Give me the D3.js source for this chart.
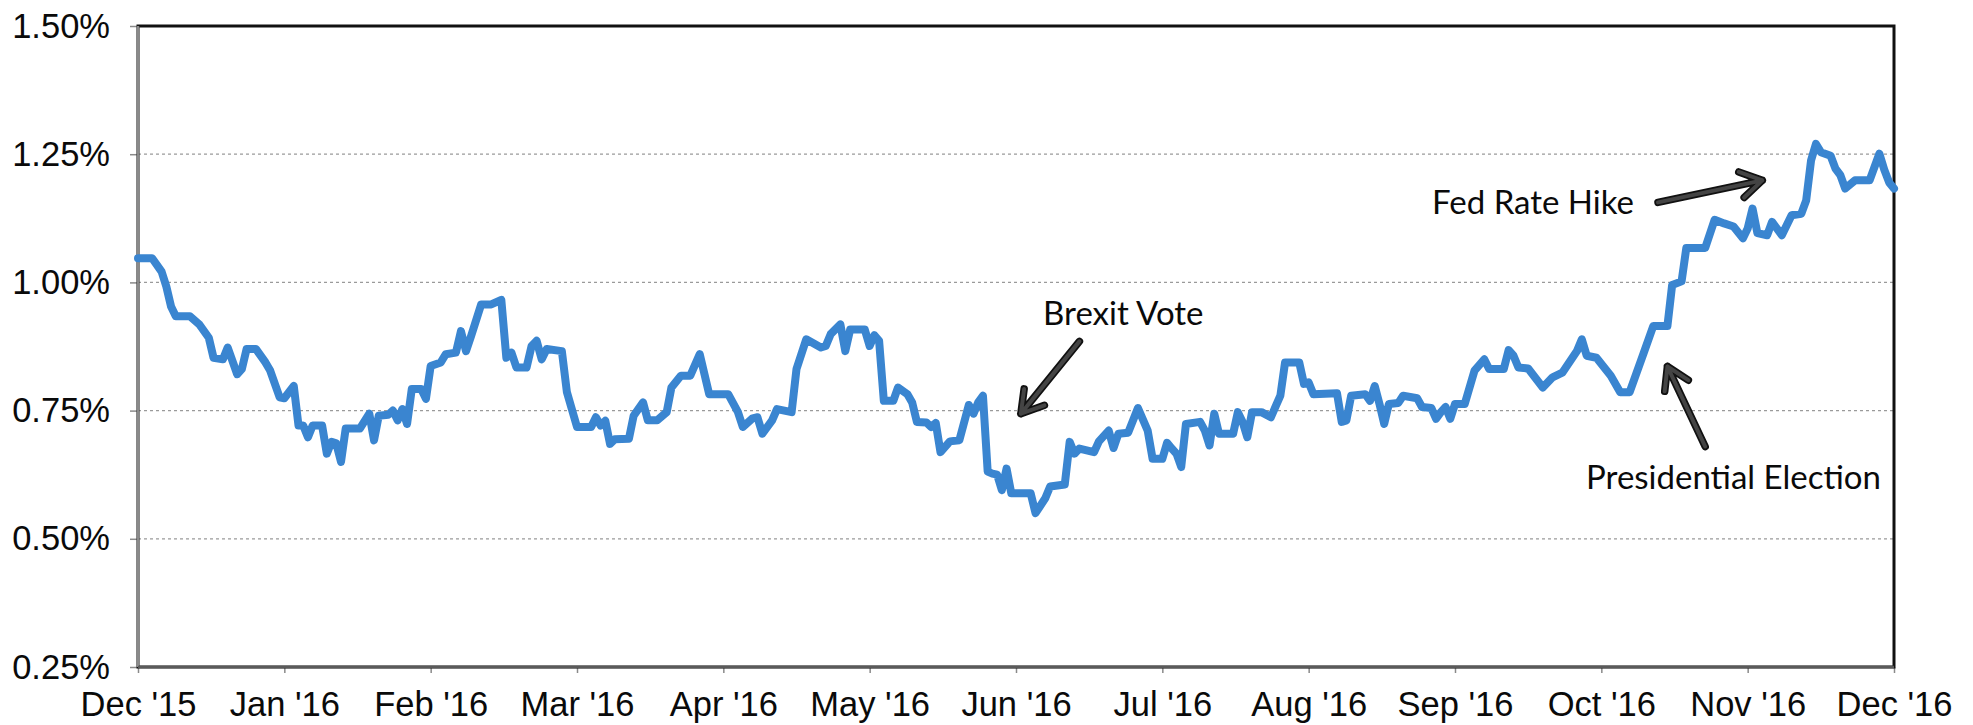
<!DOCTYPE html>
<html>
<head>
<meta charset="utf-8">
<script src="https://cdn.jsdelivr.net/npm/d3@7"></script>
<style>
  body { margin: 0; background: #fff; }
  svg { display: block; }
</style>
</head>
<body>
<script>
var config = {
  "width": 1973,
  "height": 725,
  "left": 138,
  "right": 79,
  "top": 26,
  "bottom": 58
}

// axis labels
var monthLabels = ["Dec '15", "Jan '16", "Feb '16", "Mar '16", "Apr '16", "May '16", "Jun '16",
                   "Jul '16", "Aug '16", "Sep '16", "Oct '16", "Nov '16", "Dec '16"];
var yTicks = [0.25, 0.50, 0.75, 1.00, 1.25, 1.50];
var gridTicks = [0.50, 0.75, 1.00, 1.25];

// yield series (percent)
var dates = [
  "2015-12-01","2015-12-04","2015-12-06","2015-12-07","2015-12-08","2015-12-09","2015-12-12","2015-12-14","2015-12-16","2015-12-17",
  "2015-12-19","2015-12-20","2015-12-22","2015-12-23","2015-12-24","2015-12-26","2015-12-28","2015-12-29","2015-12-31",
  "2016-01-01","2016-01-03","2016-01-04","2016-01-05","2016-01-06","2016-01-07","2016-01-09","2016-01-10","2016-01-11","2016-01-12",
  "2016-01-13","2016-01-14","2016-01-17","2016-01-19","2016-01-20","2016-01-21","2016-01-23","2016-01-24","2016-01-25","2016-01-26",
  "2016-01-27","2016-01-28","2016-01-30","2016-01-31",
  "2016-02-01","2016-02-03","2016-02-04","2016-02-06","2016-02-07","2016-02-08","2016-02-09","2016-02-11","2016-02-13","2016-02-15",
  "2016-02-16","2016-02-17","2016-02-18","2016-02-20","2016-02-21","2016-02-22","2016-02-23","2016-02-24","2016-02-27","2016-02-28",
  "2016-03-01","2016-03-04","2016-03-05","2016-03-06","2016-03-07","2016-03-08","2016-03-09","2016-03-12","2016-03-13","2016-03-15",
  "2016-03-16","2016-03-18","2016-03-20","2016-03-21","2016-03-23","2016-03-25","2016-03-27","2016-03-29",
  "2016-04-02","2016-04-04","2016-04-05","2016-04-07","2016-04-08","2016-04-09","2016-04-11","2016-04-12","2016-04-15","2016-04-16",
  "2016-04-18","2016-04-21","2016-04-22","2016-04-23","2016-04-25","2016-04-26","2016-04-27","2016-04-30",
  "2016-05-01","2016-05-02","2016-05-03","2016-05-04","2016-05-06","2016-05-07","2016-05-09","2016-05-10","2016-05-11","2016-05-13",
  "2016-05-14","2016-05-15","2016-05-16","2016-05-18","2016-05-20","2016-05-22","2016-05-23","2016-05-24","2016-05-25","2016-05-26",
  "2016-05-27","2016-05-28","2016-05-29","2016-05-30","2016-05-31",
  "2016-06-04","2016-06-05","2016-06-07","2016-06-08","2016-06-11","2016-06-12","2016-06-13","2016-06-14","2016-06-17","2016-06-18",
  "2016-06-20","2016-06-21","2016-06-22","2016-06-24","2016-06-26","2016-06-28","2016-06-29",
  "2016-07-01","2016-07-02","2016-07-03","2016-07-04","2016-07-05","2016-07-06","2016-07-09","2016-07-10","2016-07-11","2016-07-12",
  "2016-07-13","2016-07-16","2016-07-17","2016-07-18","2016-07-19","2016-07-20","2016-07-22","2016-07-24","2016-07-26","2016-07-27",
  "2016-07-30","2016-07-31",
  "2016-08-01","2016-08-02","2016-08-07","2016-08-08","2016-08-09","2016-08-10","2016-08-13","2016-08-14","2016-08-15","2016-08-16",
  "2016-08-17","2016-08-18","2016-08-20","2016-08-21","2016-08-24","2016-08-25","2016-08-27","2016-08-28","2016-08-29","2016-08-30",
  "2016-08-31",
  "2016-09-01","2016-09-03","2016-09-05","2016-09-07","2016-09-08","2016-09-11","2016-09-12","2016-09-13","2016-09-14","2016-09-16",
  "2016-09-19","2016-09-21","2016-09-23","2016-09-26","2016-09-27","2016-09-28","2016-09-30",
  "2016-10-03","2016-10-05","2016-10-07","2016-10-10","2016-10-12","2016-10-15","2016-10-16","2016-10-18","2016-10-19","2016-10-23",
  "2016-10-25","2016-10-27","2016-10-29","2016-10-31",
  "2016-11-01","2016-11-02","2016-11-03","2016-11-05","2016-11-06","2016-11-08","2016-11-10","2016-11-12","2016-11-13","2016-11-14",
  "2016-11-15","2016-11-16","2016-11-18","2016-11-19","2016-11-20","2016-11-21","2016-11-23","2016-11-26","2016-11-28","2016-11-29",
  "2016-11-30","2016-12-01"
];
var yields = [
  1.047,1.047,1.021,0.992,0.953,0.934,0.934,0.918,0.892,0.853,
  0.850,0.873,0.821,0.831,0.870,0.870,0.844,0.828,0.776,
  0.774,0.798,0.721,0.721,0.698,0.721,0.721,0.666,0.689,0.686,
  0.650,0.715,0.715,0.744,0.692,0.740,0.742,0.750,0.731,0.753,
  0.724,0.792,0.792,0.773,
  0.837,0.844,0.860,0.863,0.905,0.866,0.895,0.957,0.957,0.966,
  0.853,0.863,0.834,0.834,0.876,0.886,0.850,0.870,0.866,0.786,
  0.718,0.718,0.737,0.721,0.730,0.685,0.694,0.695,0.740,0.766,
  0.731,0.731,0.747,0.795,0.818,0.818,0.860,0.782,
  0.782,0.747,0.718,0.735,0.737,0.705,0.731,0.753,0.747,0.831,
  0.889,0.873,0.876,0.899,0.918,0.866,0.908,0.908,
  0.876,0.897,0.886,0.769,0.769,0.795,0.782,0.766,0.728,0.727,
  0.718,0.726,0.669,0.690,0.692,0.761,0.744,0.766,0.779,0.631,
  0.627,0.625,0.595,0.637,0.589,
  0.589,0.550,0.579,0.602,0.606,0.689,0.666,0.676,0.669,0.690,
  0.711,0.677,0.705,0.707,0.755,0.711,0.656,
  0.656,0.687,0.676,0.666,0.640,0.724,0.728,0.711,0.682,0.744,
  0.705,0.705,0.747,0.728,0.698,0.747,0.747,0.737,0.779,0.844,
  0.844,0.802,
  0.805,0.782,0.784,0.728,0.731,0.779,0.782,0.769,0.798,0.763,
  0.724,0.763,0.765,0.779,0.774,0.757,0.755,0.734,0.747,0.757,
  0.734,
  0.763,0.763,0.828,0.850,0.831,0.831,0.868,0.857,0.834,0.832,
  0.795,0.815,0.824,0.866,0.889,0.857,0.853,
  0.818,0.786,0.786,0.863,0.915,0.915,0.995,1.002,1.067,1.067,
  1.122,1.115,1.109,1.086,
  1.105,1.144,1.096,1.092,1.118,1.092,1.131,1.134,1.160,1.238,
  1.270,1.254,1.247,1.222,1.209,1.183,1.199,1.199,1.251,1.220,
  1.195,1.183
];

var parseDate = d3.timeParse("%Y-%m-%d");
var data = dates.map(function(d, i) { return { date: parseDate(d), value: yields[i] } });

var w = config.width - config.left - config.right,
    h = config.height - config.top - config.bottom;

// months are spaced evenly on this chart, so use a polylinear time scale
var monthStarts = d3.timeMonth.range(new Date(2015, 11, 1), new Date(2016, 11, 2));
var x = d3.scaleTime()
  .domain(monthStarts)
  .range(monthStarts.map(function(d, i) { return i * w / 12 }));
var y = d3.scaleLinear().domain([0.25, 1.5]).range([h, 0]);

var svg = d3.select("body").append("svg")
  .attr("width", config.width)
  .attr("height", config.height);

var g = svg.append("g")
  .attr("transform", "translate(" + config.left + "," + config.top + ")");

// dotted gridlines
g.selectAll(".grid")
  .data(gridTicks)
  .enter().append("line")
  .attr("x1", 0).attr("x2", w)
  .attr("y1", function(d) { return y(d) })
  .attr("y2", function(d) { return y(d) })
  .style("stroke", "#9a9a9a")
  .style("stroke-width", 1.2)
  .style("stroke-dasharray", "3,3");

// axes
var yAxis = g.append("g")
  .call(d3.axisLeft(y).tickValues(yTicks)
    .tickFormat(function(d) { return d.toFixed(2) + "%" })
    .tickSize(8).tickPadding(20));

var xAxis = g.append("g")
  .attr("transform", "translate(0," + h + ")")
  .call(d3.axisBottom(x).tickValues(monthStarts)
    .tickFormat(function(d, i) { return monthLabels[i] })
    .tickSize(6).tickPadding(19));

[yAxis, xAxis].forEach(function(a) {
  a.select(".domain").remove();
  a.selectAll(".tick line").style("stroke", "#8a8a8a").style("stroke-width", 1.5);
  a.selectAll("text")
    .style("font-family", "'Liberation Sans', Arial, sans-serif")
    .style("font-size", "34.5px")
    .style("fill", "#0a0a0a");
});

// plot frame: black top/right, grey axis lines left/bottom
g.append("rect")
  .attr("width", w).attr("height", h)
  .style("fill", "none")
  .style("stroke", "#111")
  .style("stroke-width", 3);
g.append("line").attr("x1", 0).attr("x2", 0).attr("y1", 0).attr("y2", h)
  .style("stroke", "#8a8a8a").style("stroke-width", 2.5);
g.append("line").attr("x1", 0).attr("x2", w).attr("y1", h).attr("y2", h)
  .style("stroke", "#5a5a5a").style("stroke-width", 2.5);

// the series
var line = d3.line()
  .x(function(d) { return x(d.date) })
  .y(function(d) { return y(d.value) });

g.append("path")
  .datum(data)
  .attr("d", line)
  .style("fill", "none")
  .style("stroke", "#3a85d0")
  .style("stroke-width", 8)
  .style("stroke-linejoin", "round")
  .style("stroke-linecap", "round");

// annotations: label, arrow tip, arrow tail, label anchor (all in date / value)
function annotate(label, tip, tail, at) {
  var x1 = x(parseDate(tail[0])), y1 = y(tail[1]),
      x2 = x(parseDate(tip[0])), y2 = y(tip[1]);
  var ang = Math.atan2(y2 - y1, x2 - x1), len = 25, spread = 0.55;
  var hx1 = x2 - len * Math.cos(ang - spread), hy1 = y2 - len * Math.sin(ang - spread),
      hx2 = x2 - len * Math.cos(ang + spread), hy2 = y2 - len * Math.sin(ang + spread);
  var p = "M" + x1 + "," + y1 + "L" + x2 + "," + y2 +
          "M" + hx1 + "," + hy1 + "L" + x2 + "," + y2 + "L" + hx2 + "," + hy2;
  g.append("path").attr("d", p)
    .style("fill", "none").style("stroke", "#111").style("stroke-width", 7.5)
    .style("stroke-linecap", "round").style("stroke-linejoin", "round");
  g.append("path").attr("d", p)
    .style("fill", "none").style("stroke", "#444").style("stroke-width", 4)
    .style("stroke-linecap", "round").style("stroke-linejoin", "round");
  g.append("text")
    .attr("x", x(parseDate(at[0])))
    .attr("y", y(at[1]))
    .attr("text-anchor", "middle")
    .style("font-family", "Lato, 'Open Sans', sans-serif")
    .style("font-size", "33px")
    .style("fill", "#0a0a0a")
    .text(label);
}

annotate("Brexit Vote", ["2016-06-02", 0.744], ["2016-06-14", 0.885], ["2016-06-23", 0.916]);
annotate("Fed Rate Hike", ["2016-11-04", 1.199], ["2016-10-13", 1.156], ["2016-09-17", 1.133]);
annotate("Presidential Election", ["2016-10-15", 0.836], ["2016-10-23", 0.680], ["2016-10-29", 0.598]);
</script>
</body>
</html>
